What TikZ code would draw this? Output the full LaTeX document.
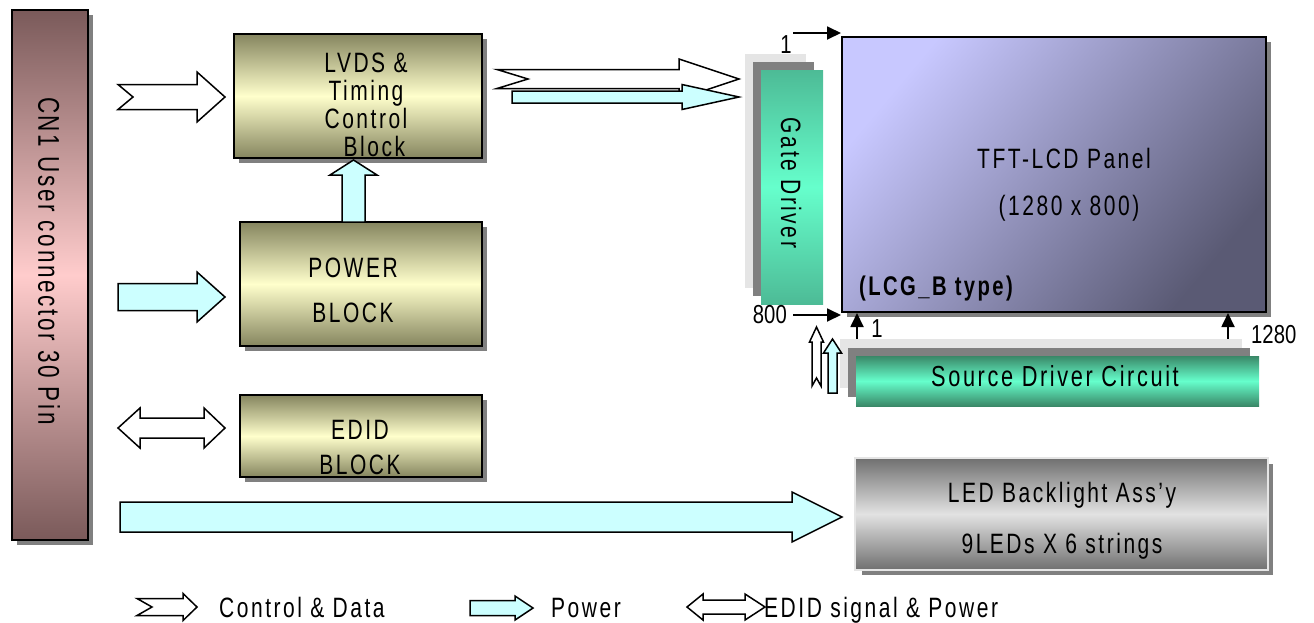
\documentclass[tikz,border=0pt]{standalone}
\usepackage{fontspec}
\setmainfont{Liberation Sans}[FakeStretch=0.75,LetterSpace=9]
\usetikzlibrary{arrows.meta}
\definecolor{cnDark}{HTML}{7A5A5A}
\definecolor{cnPink}{HTML}{FFCCCC}
\definecolor{ylDark}{HTML}{85855F}
\definecolor{ylLight}{HTML}{FFFFCC}
\definecolor{grDark}{HTML}{4DBB96}
\definecolor{grSrc}{HTML}{3A8868}
\definecolor{grLight}{HTML}{66FFCC}
\definecolor{pnLight}{HTML}{C8C8FF}
\definecolor{pnDark}{HTML}{5A5A74}
\definecolor{blDark}{HTML}{707070}
\definecolor{blLight}{HTML}{E2E2E2}
\definecolor{cyanFill}{HTML}{CCFFFF}
\definecolor{shadowGray}{HTML}{808080}
\definecolor{lightGray}{HTML}{E5E5E5}
\newcommand\blkR[7]{\draw[#1] (#2,#5-#6) -- (#3,#5-#6) -- (#3,#5-#7) -- (#4,#5) -- (#3,#5+#7) -- (#3,#5+#6) -- (#2,#5+#6) -- cycle;}
\newcommand\blkNR[8]{\draw[#1] (#2,#5-#6) -- (#3,#5-#6) -- (#3,#5-#7) -- (#4,#5) -- (#3,#5+#7) -- (#3,#5+#6) -- (#2,#5+#6) -- (#8,#5) -- cycle;}
\newcommand\blkD[8]{\draw[#1] (#2,#6) -- (#3,#6-#8) -- (#3,#6-#7) -- (#4,#6-#7) -- (#4,#6-#8) -- (#5,#6) -- (#4,#6+#8) -- (#4,#6+#7) -- (#3,#6+#7) -- (#3,#6+#8) -- cycle;}
\newcommand\blkU[7]{\draw[#1] (#2-#6,#3) -- (#2-#6,#4) -- (#2-#7,#4) -- (#2,#5) -- (#2+#7,#4) -- (#2+#6,#4) -- (#2+#6,#3) -- cycle;}
\newcommand\blkNU[8]{\draw[#1] (#2-#6,#3) -- (#2-#6,#4) -- (#2-#7,#4) -- (#2,#5) -- (#2+#7,#4) -- (#2+#6,#4) -- (#2+#6,#3) -- (#2,#8) -- cycle;}
\begin{document}
\begin{tikzpicture}[x=1pt,y=-1pt,
  box/.style={rectangle,inner sep=0pt,outer sep=0pt},
  blackedge/.style={draw=black,line width=1.8pt},
  txt/.style={inner sep=0pt,font=\fontsize{28}{28}\selectfont},
  small/.style={inner sep=0pt,font={\fontspec{Liberation Sans}[FakeStretch=0.78]\fontsize{26}{26}\selectfont}},
  wfat/.style={draw=black,line width=1.5pt,fill=white},
  cfat/.style={draw=black,line width=1.5pt,fill=cyanFill},
  thinarrow/.style={draw=black,line width=1.8pt,-{Triangle[length=14pt,width=13pt]}}]
\useasboundingbox (0,0) rectangle (1314,622);
% ---------- CN1 connector
\fill[shadowGray] (17,15) rectangle (93,545);
\node[box,blackedge,top color=cnDark,bottom color=cnDark,middle color=cnPink,
  minimum width=76pt,minimum height=530pt] (cn1) at (50,275) {};
\node[txt,rotate=-90,font=\fontsize{30}{30}\selectfont] (cn1t) at (49,261) {CN1 User\ connector\ 30\ Pin};
% ---------- LVDS block
\fill[shadowGray] (239,39) rectangle (487,163);
\node[box,blackedge,top color=ylDark,bottom color=ylDark,middle color=ylLight,
  minimum width=248pt,minimum height=124pt] (lvds) at (358,96) {};
\node[txt,align=center] (lvdst) at (366,105) {LVDS \&\\Timing\\Control\\\hspace*{0.6em}Block};
% ---------- POWER block
\fill[shadowGray] (245,227) rectangle (487,351);
\node[box,blackedge,top color=ylDark,bottom color=ylDark,middle color=ylLight,
  minimum width=242pt,minimum height=124pt] (power) at (361,284) {};
\node[txt,align=center,font=\fontsize{28}{45}\selectfont] (powert) at (353,290) {POWER\\BLOCK};
% ---------- EDID block
\fill[shadowGray] (245,400) rectangle (487,482);
\node[box,blackedge,top color=ylDark,bottom color=ylDark,middle color=ylLight,
  minimum width=242pt,minimum height=82pt] (edid) at (361,436) {};
\node[txt,align=center,font=\fontsize{28}{35}\selectfont] (edidt) at (360,447) {EDID\\BLOCK};
% ---------- input block arrows
\blkNR{wfat}{118}{197}{225}{97}{12.5}{25}{133}
\blkR{cfat}{118}{197}{225}{297}{13.5}{25}
\blkD{wfat}{118}{140}{204}{225}{428}{10}{20}
\blkU{cfat}{353.5}{222}{175}{160}{11.5}{23.5}
\blkR{cfat}{120}{792}{842}{517}{15}{25}
% ---------- arrows to gate driver
\blkNR{wfat}{497}{679}{739}{79}{9.5}{20}{528}
\blkR{cfat}{512}{682}{739}{97}{6}{12.5}
% ---------- Gate driver
\fill[lightGray] (745,54) rectangle (806,288);
\fill[shadowGray] (753,62) rectangle (814,296);
\node[box,top color=grDark,bottom color=grDark,middle color=grLight,
  minimum width=62pt,minimum height=234pt] (gate) at (792,187) {};
\node[txt,rotate=-90] (gatet) at (791,183) {Gate Driver};
% ---------- TFT panel
\fill[shadowGray] (847,42) rectangle (1271,317);
\node[box,draw=black,line width=2pt,top color=pnLight,bottom color=pnDark,shading angle=50,
  minimum width=424pt,minimum height=275pt] (panel) at (1054,174.5) {};
\node[txt,anchor=base] (pt1) at (1064,168) {TFT-LCD Panel};
\node[txt,anchor=base] (pt2) at (1069,215) {(1280 x 800)};
\node[txt,anchor=base west,font=\bfseries\fontsize{27}{28}\selectfont] (pt3) at (859,295) {(LCG\_B type)};
% ---------- index arrows and labels
\coordinate (g1s) at (793,33);
\coordinate (g1e) at (841,33);
\coordinate (g8s) at (793,315);
\coordinate (g8e) at (841,315);
\coordinate (s1s) at (857,343);
\coordinate (s1e) at (857,313);
\coordinate (s2s) at (1228,343);
\coordinate (s2e) at (1228,313);
\draw[thinarrow] (g1s) -- (g1e);
\draw[thinarrow] (g8s) -- (g8e);
\draw[thinarrow] (s1s) -- (s1e);
\draw[thinarrow] (s2s) -- (s2e);
\node[small,anchor=base] (l1) at (786,53) {1};
\node[small,anchor=base east] (l800) at (787,323) {800};
\node[small,anchor=base] (l1b) at (877,337) {1};
\node[small,anchor=base west] (l1280) at (1251,343) {1280};
% ---------- Source driver
\fill[lightGray] (840,339) rectangle (1242,388);
\fill[shadowGray] (848,348) rectangle (1250,397);
\node[box,top color=grSrc,bottom color=grSrc,middle color=grLight,
  minimum width=403pt,minimum height=50pt] (src) at (1057.5,381) {};
\node[txt,anchor=base,font=\fontsize{29}{30}\selectfont] (srct) at (1055,386) {Source Driver Circuit};
\blkNU{wfat}{816.5}{386}{342}{327}{4.5}{7}{378}
\blkU{cfat}{832.5}{393}{353}{339}{4.5}{9}
% ---------- LED backlight
\fill[shadowGray] (862,464) rectangle (1273,575);
\node[box,draw=lightGray,line width=2.5pt,top color=blDark,bottom color=blDark,middle color=blLight,
  minimum width=413pt,minimum height=112pt] (bl) at (1061.5,514) {};
\node[txt,anchor=base] (blt1) at (1062,502) {LED Backlight Ass’y};
\node[txt,anchor=base] (blt2) at (1062,553) {9LEDs X 6 strings};
% ---------- legend
\blkNR{wfat}{137}{183}{197}{607}{8.5}{13.5}{152}
\node[txt,anchor=base west] (lg1) at (219,617) {Control \& Data};
\blkR{cfat}{470}{515}{533}{608}{7.5}{12}
\node[txt,anchor=base west] (lg2) at (551,617) {Power};
\blkD{wfat}{687}{703}{745}{765}{607}{7}{13}
\node[txt,anchor=base west] (lg3) at (764,617) {EDID signal \& Power};
\end{tikzpicture}
\end{document}
